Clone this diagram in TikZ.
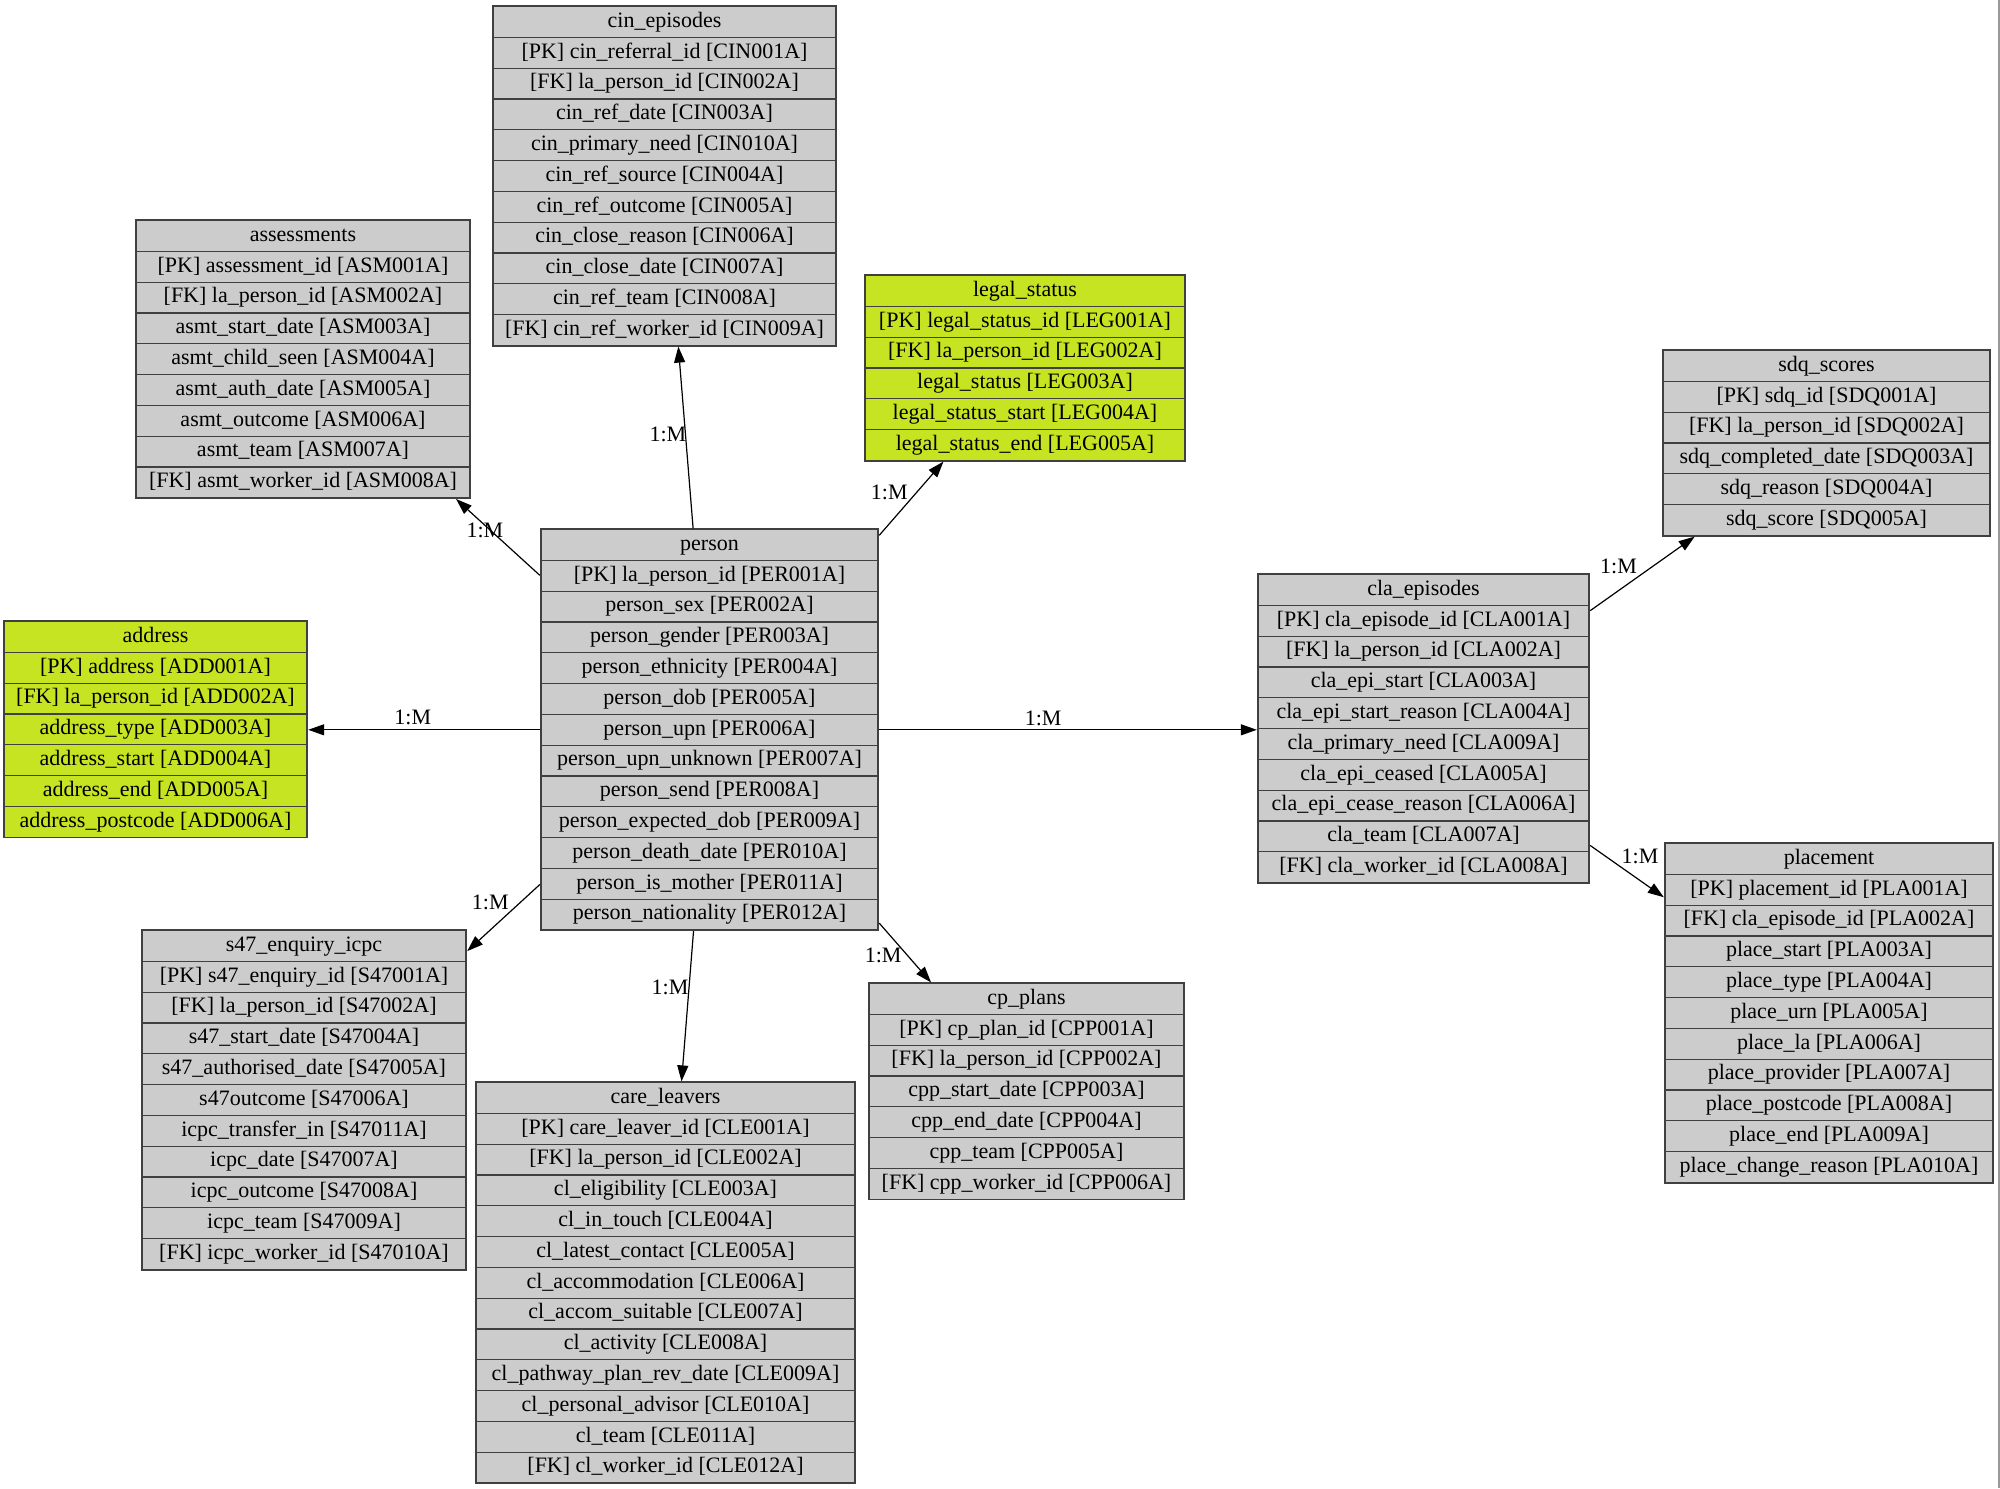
\documentclass[tikz,border=0pt]{standalone}
\usepackage{fontspec}
\setmainfont{Liberation Serif}
\usepackage{xcolor}
\usepackage{tikz}
\usetikzlibrary{arrows.meta, fit, calc}

\definecolor{tblgrey}{HTML}{CCCCCC}
\definecolor{tblgreen}{HTML}{C6E422}

% one table: name, left, top, right, fill, fields
\newcommand{\dbtable}[6]{%
  \foreach \fld [count=\rw from 0] in {#6} {
    \node[field, fill=#5, minimum width={(#4-#2)*0.5pt}] (#1-\rw) at ({(#2+#4)/2}, {#3+30.8*\rw}) {\fld};
    \xdef\lastrow{\rw}
  }
  \node[tablebox, fit=(#1-0)(#1-\lastrow)] (#1) {};
}

\begin{document}
\begin{tikzpicture}[x=0.5pt, y=-0.5pt,
  field/.style={draw=black!75, line width=0.6pt, anchor=north, inner sep=0pt,
    minimum height=15.4pt, text height=7.6pt, text depth=2.4pt,
    font=\fontsize{11}{13}\selectfont},
  tablebox/.style={draw=black!75, line width=0.6pt, inner sep=0pt},
  rel/.style={-{Triangle[length=8pt, width=5.5pt]}, line width=0.6pt},
  card/.style={font=\fontsize{11}{13}\selectfont, inner sep=0pt},
]
  \useasboundingbox (0,0) rectangle (2000,1488);

  % Tables
  \dbtable{person}{541}{529}{878}{tblgrey}{person, [PK] la\_person\_id [PER001A], person\_sex [PER002A], person\_gender [PER003A], person\_ethnicity [PER004A], person\_dob [PER005A], person\_upn [PER006A], person\_upn\_unknown [PER007A], person\_send [PER008A], person\_expected\_dob [PER009A], person\_death\_date [PER010A], person\_is\_mother [PER011A], person\_nationality [PER012A]}
  \dbtable{cin}{493}{6}{836}{tblgrey}{cin\_episodes, [PK] cin\_referral\_id [CIN001A], [FK] la\_person\_id [CIN002A], cin\_ref\_date [CIN003A], cin\_primary\_need [CIN010A], cin\_ref\_source [CIN004A], cin\_ref\_outcome [CIN005A], cin\_close\_reason [CIN006A], cin\_close\_date [CIN007A], cin\_ref\_team [CIN008A], [FK] cin\_ref\_worker\_id [CIN009A]}
  \dbtable{asmt}{136}{220}{470}{tblgrey}{assessments, [PK] assessment\_id [ASM001A], [FK] la\_person\_id [ASM002A], asmt\_start\_date [ASM003A], asmt\_child\_seen [ASM004A], asmt\_auth\_date [ASM005A], asmt\_outcome [ASM006A], asmt\_team [ASM007A], [FK] asmt\_worker\_id [ASM008A]}
  \dbtable{legal}{865}{275}{1185}{tblgreen}{legal\_status, [PK] legal\_status\_id [LEG001A], [FK] la\_person\_id [LEG002A], legal\_status [LEG003A], legal\_status\_start [LEG004A], legal\_status\_end [LEG005A]}
  \dbtable{sdq}{1663}{350}{1990}{tblgrey}{sdq\_scores, [PK] sdq\_id [SDQ001A], [FK] la\_person\_id [SDQ002A], sdq\_completed\_date [SDQ003A], sdq\_reason [SDQ004A], sdq\_score [SDQ005A]}
  \dbtable{addr}{4}{621}{307}{tblgreen}{address, [PK] address [ADD001A], [FK] la\_person\_id [ADD002A], address\_type [ADD003A], address\_start [ADD004A], address\_end [ADD005A], address\_postcode [ADD006A]}
  \dbtable{cla}{1258}{574}{1589}{tblgrey}{cla\_episodes, [PK] cla\_episode\_id [CLA001A], [FK] la\_person\_id [CLA002A], cla\_epi\_start [CLA003A], cla\_epi\_start\_reason [CLA004A], cla\_primary\_need [CLA009A], cla\_epi\_ceased [CLA005A], cla\_epi\_cease\_reason [CLA006A], cla\_team [CLA007A], [FK] cla\_worker\_id [CLA008A]}
  \dbtable{place}{1665}{843}{1993}{tblgrey}{placement, [PK] placement\_id [PLA001A], [FK] cla\_episode\_id [PLA002A], place\_start [PLA003A], place\_type [PLA004A], place\_urn [PLA005A], place\_la [PLA006A], place\_provider [PLA007A], place\_postcode [PLA008A], place\_end [PLA009A], place\_change\_reason [PLA010A]}
  \dbtable{sfs}{142}{930}{466}{tblgrey}{s47\_enquiry\_icpc, [PK] s47\_enquiry\_id [S47001A], [FK] la\_person\_id [S47002A], s47\_start\_date [S47004A], s47\_authorised\_date [S47005A], s47outcome [S47006A], icpc\_transfer\_in [S47011A], icpc\_date [S47007A], icpc\_outcome [S47008A], icpc\_team [S47009A], [FK] icpc\_worker\_id [S47010A]}
  \dbtable{care}{476}{1082}{855}{tblgrey}{care\_leavers, [PK] care\_leaver\_id [CLE001A], [FK] la\_person\_id [CLE002A], cl\_eligibility [CLE003A], cl\_in\_touch [CLE004A], cl\_latest\_contact [CLE005A], cl\_accommodation [CLE006A], cl\_accom\_suitable [CLE007A], cl\_activity [CLE008A], cl\_pathway\_plan\_rev\_date [CLE009A], cl\_personal\_advisor [CLE010A], cl\_team [CLE011A], [FK] cl\_worker\_id [CLE012A]}
  \dbtable{cpp}{869}{983}{1184}{tblgrey}{cp\_plans, [PK] cp\_plan\_id [CPP001A], [FK] la\_person\_id [CPP002A], cpp\_start\_date [CPP003A], cpp\_end\_date [CPP004A], cpp\_team [CPP005A], [FK] cpp\_worker\_id [CPP006A]}

  % Relations
  \draw[rel] (person) -- (cin) node[card, midway, xshift=-8.9pt, yshift=1.75pt] {1:M};
  \draw[rel] (person) -- (asmt) node[card, midway, xshift=-6.5pt, yshift=3.5pt] {1:M};
  \draw[rel] (person) -- (legal) node[card, midway, xshift=-11pt, yshift=3pt] {1:M};
  \draw[rel] (person-6.west) -- (person-6.west -| addr.east) node[card, midway, xshift=-5.75pt, yshift=6pt] {1:M};
  \draw[rel] (person-6.east) -- (person-6.east -| cla.west) node[card, midway, xshift=-12.25pt, yshift=5.5pt] {1:M};
  \draw[rel] (cla) -- (sdq) node[card, midway, xshift=-12pt, yshift=3.8pt] {1:M};
  \draw[rel] (cla) -- (place) node[card, midway, xshift=6.5pt, yshift=7.5pt] {1:M};
  \draw[rel] (person) -- (sfs) node[card, midway, xshift=-6.6pt, yshift=7.7pt] {1:M};
  \draw[rel] (person) -- (care) node[card, midway, xshift=-8.75pt, yshift=9.4pt] {1:M};
  \draw[rel] (person) -- (cpp) node[card, midway, xshift=-11pt, yshift=-1.5pt] {1:M};

  % frame edge
  \draw[black!40, line width=1pt] (1998.5,0) -- (1998.5,1488);
\end{tikzpicture}
\end{document}
